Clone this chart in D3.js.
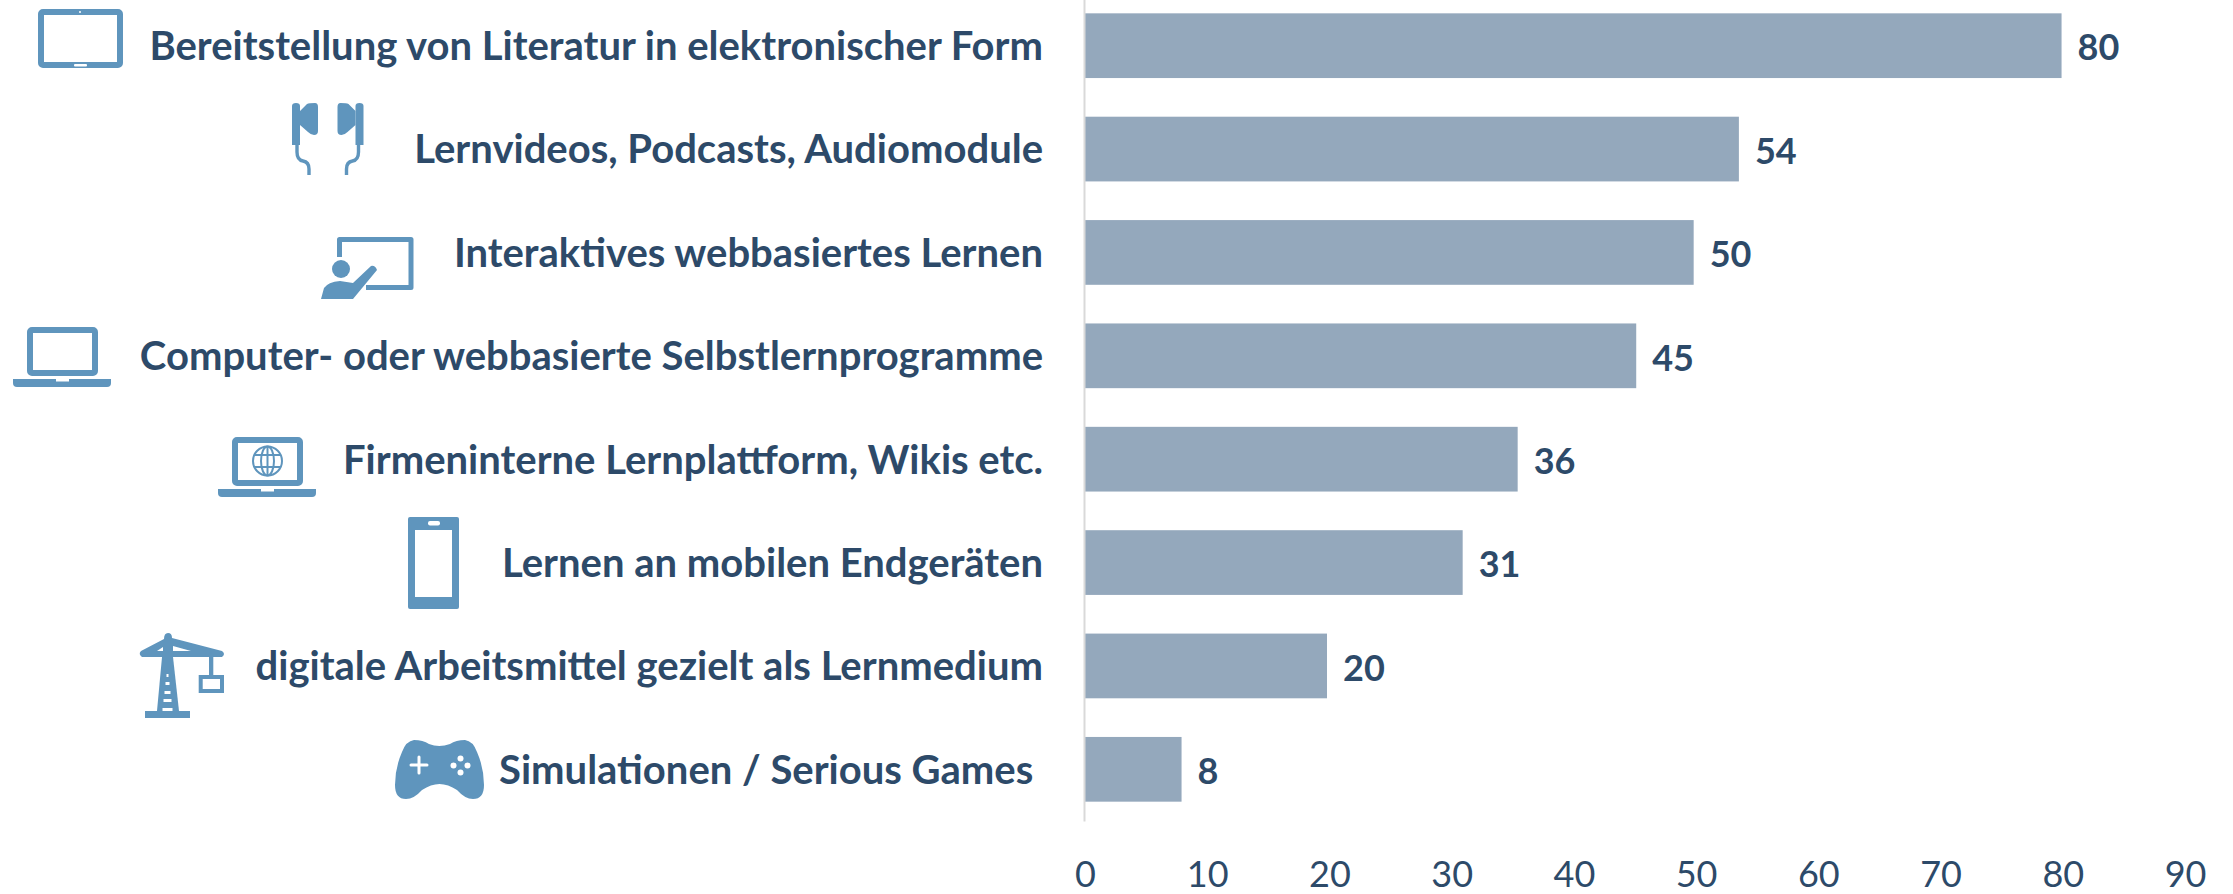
<!DOCTYPE html>
<html>
<head>
<meta charset="utf-8">
<script src="https://cdnjs.cloudflare.com/ajax/libs/d3/7.8.5/d3.min.js"></script>
<style>
  html, body { margin: 0; padding: 0; background: #fff; }
  svg { display: block; }
  text { font-family: Lato, "Open Sans", sans-serif; fill: #2d4a69; }
  .cat text { font-weight: 700; font-size: 40px; white-space: pre; }
  .val { font-weight: 700; font-size: 36px; }
  .xaxis text { font-weight: 400; font-size: 36px; }
</style>
</head>
<body>
<script>
var categories = [
  "Bereitstellung von Literatur in elektronischer Form",
  "Lernvideos, Podcasts, Audiomodule",
  "Interaktives webbasiertes Lernen",
  "Computer- oder webbasierte Selbstlernprogramme",
  "Firmeninterne Lernplattform, Wikis etc.",
  "Lernen an mobilen Endgeräten",
  "digitale Arbeitsmittel gezielt als Lernmedium",
  "Simulationen / Serious Games "
];
var values = [79.9, 53.5, 49.8, 45.1, 35.4, 30.9, 19.8, 7.9];
var valueLabels = ["80", "54", "50", "45", "36", "31", "20", "8"];
var xTicks = [0, 10, 20, 30, 40, 50, 60, 70, 80, 90];

var width = 2233, height = 894;
var barColor = "#94a8bc", iconColor = "#5f95bd";

var svg = d3.select("body").append("svg").attr("width", width).attr("height", height);

var x = d3.scaleLinear().domain([0, 90]).range([1085, 2185]);
var y = d3.scaleBand().domain(categories).range([-6, 821]).paddingInner(0.374).paddingOuter(0.187);

// bars
svg.append("g").selectAll("rect")
  .data(values)
  .join("rect")
  .attr("x", x(0))
  .attr("y", function(d, i){ return y(categories[i]); })
  .attr("width", function(d){ return x(d) - x(0); })
  .attr("height", y.bandwidth())
  .attr("fill", barColor);

// category axis
var yAxis = d3.axisLeft(y).tickSize(0).tickPadding(41);
var catGroup = svg.append("g")
  .attr("class", "cat")
  .attr("transform", "translate(1084,0)")
  .call(yAxis);
catGroup.select(".domain").attr("stroke", "#d9d9d9").attr("stroke-width", 2);
catGroup.selectAll("text").attr("dy", "0.36em");

// value labels
svg.append("g").selectAll("text")
  .data(values)
  .join("text")
  .attr("class", "val")
  .attr("x", function(d){ return x(d) + 16; })
  .attr("y", function(d, i){ return y(categories[i]) + y.bandwidth() / 2; })
  .attr("dy", "0.41em")
  .text(function(d, i){ return valueLabels[i]; });

// value axis
var xAxis = d3.axisBottom(x).tickValues(xTicks).tickSize(0).tickPadding(0);
var xGroup = svg.append("g")
  .attr("class", "xaxis")
  .attr("transform", "translate(0,850)")
  .call(xAxis);
xGroup.select(".domain").remove();
xGroup.selectAll("text").attr("dy", "36.5px").attr("y", 0);

// icons
function icon(cx, cy) {
  return svg.append("g").attr("transform", "translate(" + cx + "," + cy + ")").attr("fill", iconColor);
}

function laptop(g) {
  g.append("rect").attr("x", 3).attr("y", 3).attr("width", 65).attr("height", 43).attr("rx", 2)
    .attr("fill", "none").attr("stroke", iconColor).attr("stroke-width", 6);
  g.append("path").attr("d", "M-14 52H84V56Q84 60 80 60H-10Q-14 60 -14 56Z");
  g.append("rect").attr("x", 29).attr("y", 52).attr("width", 13).attr("height", 2.5).attr("fill", "#fff");
}

// tablet
var tablet = icon(38, 9);
tablet.append("rect").attr("x", 3).attr("y", 3).attr("width", 79).attr("height", 53).attr("rx", 2)
  .attr("fill", "none").attr("stroke", iconColor).attr("stroke-width", 6);
tablet.append("circle").attr("cx", 42).attr("cy", 3).attr("r", 1).attr("fill", "#fff");
tablet.append("rect").attr("x", 36).attr("y", 55).attr("width", 13).attr("height", 2.5).attr("rx", 1).attr("fill", "#fff");

// earphones
var buds = icon(292, 103);
[0, 1].forEach(function(i){
  var b = buds.append("g").attr("transform", i ? "translate(71.5,0) scale(-1,1)" : null);
  b.append("path").attr("d", "M0 3Q0 0 4 0Q8 0 8 3V42H0Z");
  b.append("path").attr("d", "M8 8L15 1Q17 0 23 0Q26 0 26 4V28Q26 32 22 32Q19 32 16 29L8 22Z");
  b.append("path").attr("d", "M5 42V49Q5 57 11 58Q17 59 17 66V72")
    .attr("fill", "none").attr("stroke", iconColor).attr("stroke-width", 3.4);
});

// teacher and board
var teacher = icon(321, 237);
teacher.append("path").attr("d", "M18.5 20V2.5H90V50.5H45")
  .attr("fill", "none").attr("stroke", iconColor).attr("stroke-width", 5).attr("stroke-linejoin", "round");
teacher.append("circle").attr("cx", 20).attr("cy", 32).attr("r", 9);
teacher.append("path").attr("d", "M0 62L3 51Q7 45 19 44L32 46L50 29Q54 28 56 33L32 62Z");

// laptops
laptop(icon(27, 327));
var globeTop = icon(232, 437);
laptop(globeTop);
var globe = globeTop.append("g").attr("transform", "translate(35.5,24)")
  .attr("fill", "none").attr("stroke", iconColor).attr("stroke-width", 2);
globe.append("circle").attr("r", 14.5);
globe.append("ellipse").attr("rx", 6.5).attr("ry", 14.5);
globe.append("path").attr("d", "M0 -14.5V14.5M-13 -6H13M-13 6H13");

// phone
var phone = icon(408, 517);
phone.append("rect").attr("width", 51).attr("height", 92).attr("rx", 2);
phone.append("rect").attr("x", 7).attr("y", 13).attr("width", 37).attr("height", 67).attr("fill", "#fff");
phone.append("rect").attr("x", 20).attr("y", 4).attr("width", 12).attr("height", 4.5).attr("rx", 2).attr("fill", "#fff");

// crane
var crane = icon(139, 633);
crane.append("path").attr("d", "M29 0Q33 0 33 5L83 18Q87 21 83 24H3Q-1 21 2 18L25 6Q25 0 29 0Z");
crane.append("path").attr("d", "M18 78L23 24H34L40 78Z");
crane.append("rect").attr("x", 6).attr("y", 78).attr("width", 45).attr("height", 7);
crane.append("rect").attr("x", 70).attr("y", 22).attr("width", 4.3).attr("height", 22);
crane.append("rect").attr("x", 61.7).attr("y", 44).attr("width", 21.3).attr("height", 14)
  .attr("fill", "none").attr("stroke", iconColor).attr("stroke-width", 4);
crane.append("path").attr("d", "M18 18L24 14V18ZM34 13L52 18H34Z").attr("fill", "#fff");
[[41, 2], [49, 4], [58, 6], [66, 8], [75, 10]].forEach(function(r){
  crane.append("rect").attr("x", 28.5 - r[1] / 2).attr("y", r[0]).attr("width", r[1]).attr("height", 3).attr("fill", "#fff");
});

// gamepad
var pad = icon(395, 740);
pad.append("path").attr("d", "M19 0Q28 0 34 4Q44 8 55 4Q61 0 70 0Q78 1 82 12Q89 28 89 45Q89 59 78 59Q70 59 62 50Q53 44 44.5 44Q36 44 27 50Q19 59 11 59Q0 59 0 45Q0 28 7 12Q11 1 19 0Z");
pad.append("path").attr("d", "M24 17V33M16 25H32").attr("stroke", "#fff").attr("stroke-width", 3).attr("stroke-linecap", "round");
[[58.5, 25.5], [72.5, 25.5], [65.5, 18.5], [65.5, 32.5]].forEach(function(p){
  pad.append("circle").attr("cx", p[0]).attr("cy", p[1]).attr("r", 3).attr("fill", "#fff");
});
</script>
</body>
</html>
